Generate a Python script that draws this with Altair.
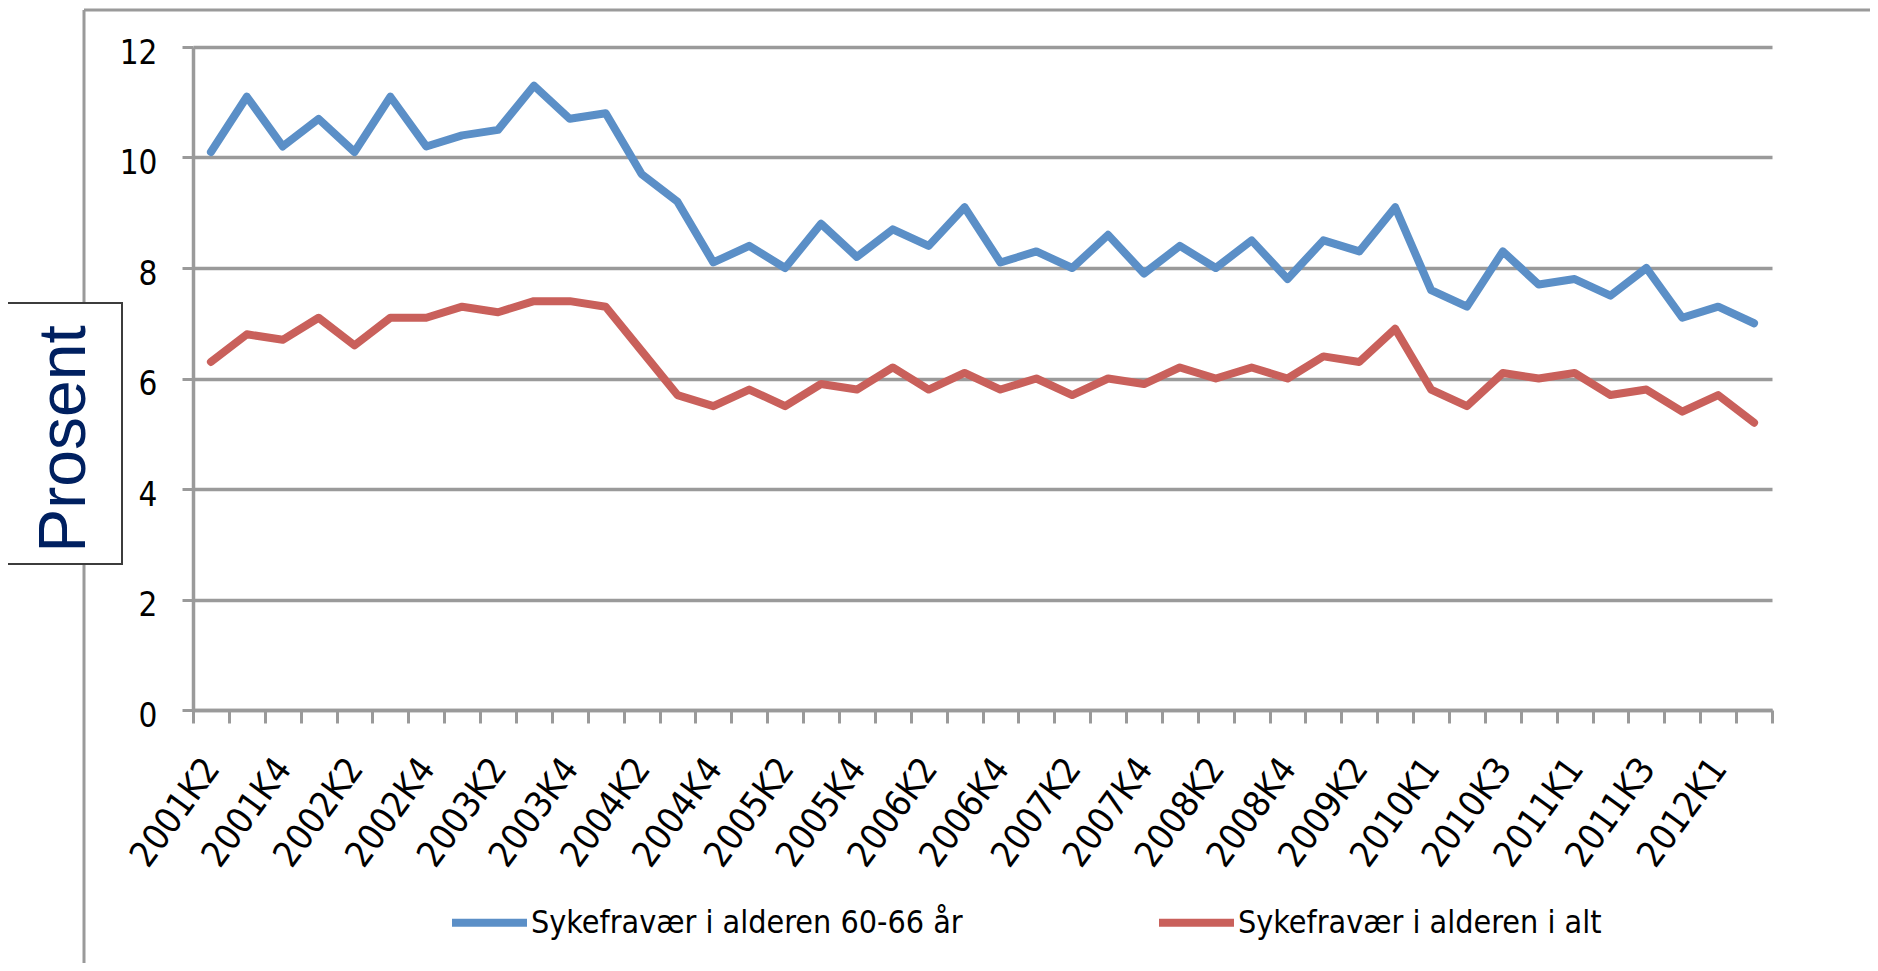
import json
import altair as alt
import pandas as pd

# ---------------- data ----------------
quarters = [
    "2001K2", "2001K3", "2001K4",
    "2002K1", "2002K2", "2002K3", "2002K4",
    "2003K1", "2003K2", "2003K3", "2003K4",
    "2004K1", "2004K2", "2004K3", "2004K4",
    "2005K1", "2005K2", "2005K3", "2005K4",
    "2006K1", "2006K2", "2006K3", "2006K4",
    "2007K1", "2007K2", "2007K3", "2007K4",
    "2008K1", "2008K2", "2008K3", "2008K4",
    "2009K1", "2009K2", "2009K3",
    "2010K1", "2010K2", "2010K3", "2010K4",
    "2011K1", "2011K2", "2011K3", "2011K4",
    "2012K1", "2012K2",
]
tick_labels = [
    "2001K2", "2001K4", "2002K2", "2002K4", "2003K2", "2003K4",
    "2004K2", "2004K4", "2005K2", "2005K4", "2006K2", "2006K4",
    "2007K2", "2007K4", "2008K2", "2008K4", "2009K2", "2010K1",
    "2010K3", "2011K1", "2011K3", "2012K1",
]
sykefravaer_60_66 = [
    10.1, 11.1, 10.2, 10.7, 10.1, 11.1, 10.2, 10.4, 10.5, 11.3, 10.7,
    10.8, 9.7, 9.2, 8.1, 8.4, 8.0, 8.8, 8.2, 8.7, 8.4, 9.1,
    8.1, 8.3, 8.0, 8.6, 7.9, 8.4, 8.0, 8.5, 7.8, 8.5, 8.3,
    9.1, 7.6, 7.3, 8.3, 7.7, 7.8, 7.5, 8.0, 7.1, 7.3, 7.0,
]
sykefravaer_alle = [
    6.3, 6.8, 6.7, 7.1, 6.6, 7.1, 7.1, 7.3, 7.2, 7.4, 7.4,
    7.3, 6.5, 5.7, 5.5, 5.8, 5.5, 5.9, 5.8, 6.2, 5.8, 6.1,
    5.8, 6.0, 5.7, 6.0, 5.9, 6.2, 6.0, 6.2, 6.0, 6.4, 6.3,
    6.9, 5.8, 5.5, 6.1, 6.0, 6.1, 5.7, 5.8, 5.4, 5.7, 5.2,
]
series_names = ["Sykefravær i alderen 60-66 år", "Sykefravær i alderen i alt"]
series_colors = ["#5B8FC7", "#C9605B"]
y_ticks = [0, 2, 4, 6, 8, 10, 12]
y_title = "Prosent"

n = len(quarters)
df = pd.DataFrame({
    "kvartal": quarters * 2,
    "serie": [series_names[0]] * n + [series_names[1]] * n,
    "prosent": sykefravaer_60_66 + sykefravaer_alle,
    "rekkefolge": list(range(n)) * 2,
})

# ---------------- styling ----------------
FONT = "DejaVu Sans Condensed, Lato, sans-serif"
GRAY = "#9A9A9A"
W, H = 1579, 663

label_expr = (
    "indexof(" + json.dumps(tick_labels) + ", datum.value) >= 0 ? datum.label : ''"
)

one = pd.DataFrame({"a": [0]})

frame_left = alt.Chart(one).mark_rule(color=GRAY, strokeWidth=3).encode(
    x=alt.value(-109), y=alt.value(-37), y2=alt.value(H + 260)
)
frame_top = alt.Chart(one).mark_rule(color=GRAY, strokeWidth=3).encode(
    x=alt.value(-109), x2=alt.value(W + 200), y=alt.value(-37)
)
title_box = alt.Chart(one).mark_rect(
    fill="white", stroke="#3C3C3C", strokeWidth=2
).encode(
    x=alt.value(-188), x2=alt.value(-71), y=alt.value(256), y2=alt.value(517)
)
title_text = alt.Chart(one).mark_text(
    text=y_title, angle=270, font="Liberation Sans, Arial, sans-serif",
    fontSize=66, color="#002060", align="center", baseline="middle"
).encode(x=alt.value(-128), y=alt.value(392))

lines = alt.Chart(df).mark_line(
    strokeWidth=8, strokeJoin="round", strokeCap="round"
).encode(
    x=alt.X(
        "kvartal:O",
        sort=quarters,
        bandPosition=0.5,
        scale=alt.Scale(type="band", paddingInner=0, paddingOuter=0),
        axis=alt.Axis(
            title=None,
            tickBand="extent",
            ticks=True,
            tickSize=13,
            tickWidth=3,
            tickColor=GRAY,
            domainColor=GRAY,
            domainWidth=3.5,
            grid=False,
            labelAngle=-54,
            labelAlign="right",
            labelBaseline="top",
            labelFont=FONT,
            labelFontSize=36,
            labelColor="black",
            labelPadding=29,
            labelOffset=-13,
            labelOverlap=False,
            labelExpr=label_expr,
        ),
    ),
    y=alt.Y(
        "prosent:Q",
        scale=alt.Scale(domain=[0, 12], nice=False, zero=True),
        axis=alt.Axis(
            title=None,
            values=y_ticks,
            grid=True,
            gridColor=GRAY,
            gridWidth=3.5,
            gridOpacity=1,
            ticks=True,
            tickSize=11,
            tickWidth=3,
            tickColor=GRAY,
            domainColor=GRAY,
            domainWidth=3.5,
            labelFont=FONT,
            labelFontSize=33,
            labelColor="black",
            labelPadding=25,
            labelOffset=6,
        ),
    ),
    color=alt.Color(
        "serie:N",
        scale=alt.Scale(domain=series_names, range=series_colors),
        legend=alt.Legend(
            title=None,
            orient="none",
            legendX=255,
            legendY=834,
            direction="horizontal",
            columns=2,
            columnPadding=180,
            symbolType="stroke",
            symbolSize=5625,
            symbolStrokeWidth=8,
            labelFont=FONT,
            labelFontSize=32,
            labelColor="black",
            labelOffset=0,
            labelLimit=0,
        ),
    ),
    order=alt.Order("rekkefolge:Q"),
)

chart = alt.layer(frame_left, frame_top, title_box, title_text, lines).properties(
    width=W,
    height=H,
    padding={"left": 185, "top": 39, "right": 98, "bottom": 253},
    autosize=alt.AutoSizeParams(type="none"),
).configure_view(stroke=None)

chart.save("out.html", embed_options={"renderer": "svg", "actions": False})
